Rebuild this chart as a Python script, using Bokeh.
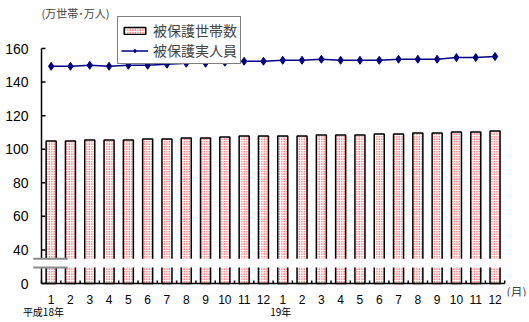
from bokeh.plotting import figure
from bokeh.models import Range1d, FixedTicker, Label, Legend, LegendItem, LinearAxis
from bokeh.embed import file_html
from bokeh.resources import INLINE

# ---- data ----
months = list(range(1, 25))
month_labels = [str(m) for m in range(1, 13)] * 2
households = [104.9, 104.9, 105.5, 105.5, 105.5, 106.1, 106.1, 106.7, 106.7, 107.3, 107.9, 107.9,
              107.9, 107.9, 108.5, 108.5, 108.5, 109.1, 109.1, 109.7, 109.7, 110.3, 110.3, 110.9]
persons = [149.4, 149.4, 150.0, 149.4, 150.0, 150.0, 150.6, 151.2, 151.2, 151.8, 152.4, 152.4,
           153.0, 153.0, 153.6, 153.0, 153.0, 153.0, 153.6, 153.6, 153.6, 154.6, 154.6, 155.2]
y_ticks = [20, 40, 60, 80, 100, 120, 140, 160]
y_tick_labels = ["0", "40", "60", "80", "100", "120", "140", "160"]
year_ticks = [0.6, 12.9]
year_labels = ["平成18年", "19年"]
axis_floor = 20          # where the "0" of the broken axis sits
break_low, break_high = 29.6, 34.8

JP = "Noto Sans CJK JP"
NUM = "Liberation Sans"

X0, X1 = 0.5, 24.5
PX_X = 19.3              # pixels per month
PX_Y = 235 / 140         # pixels per unit

p = figure(width=529, height=322,
           x_range=Range1d(0.5 - 13 / PX_X, 0.5 + 488 / PX_X),
           y_range=Range1d(20 - 13 / PX_Y, 20 + 279 / PX_Y),
           output_backend="svg", toolbar_location=None,
           min_border_left=28, min_border_right=0, min_border_top=4, min_border_bottom=26)
p.outline_line_color = None
p.grid.visible = False

bars = p.vbar(x=months, top=households, bottom=axis_floor, width=0.52, fill_color="white",
              line_color="black", line_width=1.5, hatch_pattern="dot", hatch_color="red",
              hatch_scale=2.5, hatch_weight=2)
line = p.line(months, persons, line_color="#000080", line_width=1.5)
pts = p.scatter(months, persons, marker="diamond", size=8, fill_color="#000080",
                line_color="#000080")

# ---- axis lines and ticks (drawn as glyphs) ----
p.segment(x0=[X0, X0], y0=[axis_floor, axis_floor], x1=[X0, X1], y1=[y_ticks[-1], axis_floor],
          line_color="black", line_width=1.5)
p.segment(x0=[X0] * len(y_ticks), y0=y_ticks, x1=[X0 + 4 / PX_X] * len(y_ticks), y1=y_ticks,
          line_color="black", line_width=1.5)
minor = [X0 + i for i in range(25)]
p.segment(x0=minor, y0=[axis_floor] * len(minor), x1=minor,
          y1=[axis_floor + 3 / PX_Y] * len(minor), line_color="black", line_width=1.5)

# axis break
p.quad(left=[X0 - 0.67], right=[X1 + 0.1], bottom=[break_low], top=[break_high],
       fill_color="white", line_color=None)
p.segment(x0=[0.07, 0.07], y0=[break_low, break_high], x1=[1.86, 1.86],
          y1=[break_low, break_high], line_color="#8c8c8c", line_width=2)

# ---- axes (labels only) ----
for ax in (p.xaxis[0], p.yaxis[0]):
    ax.axis_line_color = None
    ax.major_tick_line_color = None
    ax.minor_tick_line_color = None
    ax.major_tick_in = 0
    ax.major_tick_out = 0
    ax.minor_tick_in = 0
    ax.minor_tick_out = 0
    ax.major_label_text_color = "black"

p.xaxis.ticker = FixedTicker(ticks=months)
p.xaxis.major_label_overrides = {m: l for m, l in zip(months, month_labels)}
p.xaxis.major_label_standoff = -2
p.xaxis.major_label_text_font = NUM
p.xaxis.major_label_text_font_size = "12px"

p.yaxis.ticker = FixedTicker(ticks=y_ticks)
p.yaxis.major_label_overrides = {t: l for t, l in zip(y_ticks, y_tick_labels)}
p.yaxis.major_label_standoff = 0
p.yaxis.major_label_text_font = NUM
p.yaxis.major_label_text_font_size = "14px"

year_axis = LinearAxis(ticker=FixedTicker(ticks=year_ticks),
                       major_label_overrides={t: l for t, l in zip(year_ticks, year_labels)},
                       axis_line_color=None, major_tick_line_color=None,
                       minor_tick_line_color=None, major_tick_in=0, major_tick_out=0,
                       minor_tick_in=0, minor_tick_out=0, major_label_standoff=-3,
                       major_label_text_font=JP, major_label_text_font_size="10px",
                       major_label_text_color="black")
p.add_layout(year_axis, "below")

# ---- legend ----
legend = Legend(items=[LegendItem(label="被保護世帯数", renderers=[bars]),
                       LegendItem(label="被保護実人員", renderers=[line, pts])],
                location=(89, 232), border_line_color="black", border_line_width=1,
                background_fill_color="white", background_fill_alpha=1,
                label_text_font=JP, label_text_font_size="14px", label_text_line_height=1.0,
                glyph_width=27, glyph_height=9, label_height=14, spacing=0, padding=3,
                margin=0, label_standoff=5)
p.add_layout(legend)

# ---- texts ----
p.add_layout(Label(x=0.5, y=20 + 271 / PX_Y, text="(万世帯･万人)", text_font=JP,
                   text_font_size="11px", text_align="left", text_baseline="middle"))
p.add_layout(Label(x=0.5 + 465 / PX_X, y=20 - 7.5 / PX_Y, text="(月)", text_font=JP,
                   text_font_size="12px", text_align="left", text_baseline="middle"))

open("out.html", "w").write(file_html(p, INLINE))
